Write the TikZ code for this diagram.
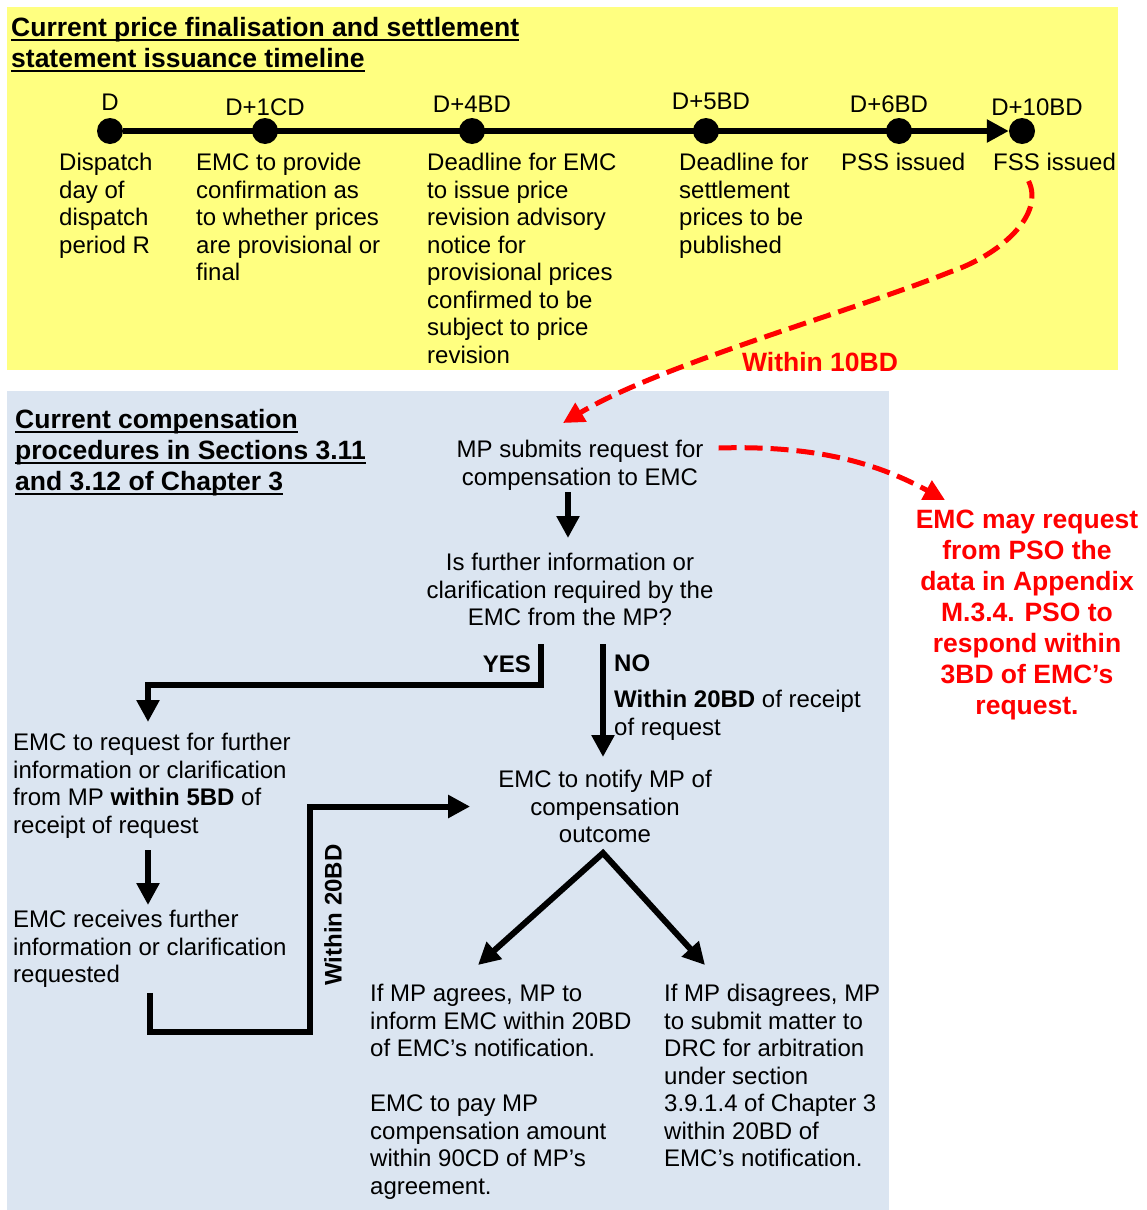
\documentclass[tikz,border=0pt]{standalone}
\usepackage{fontspec}
\setmainfont{Liberation Sans}
\usetikzlibrary{arrows.meta}
\definecolor{paleyellow}{HTML}{FFFF80}
\definecolor{paleblue}{HTML}{DBE5F1}
\definecolor{alertred}{HTML}{FF0000}
\newcommand{\ulbox}[1]{\leavevmode\setbox0\hbox{#1}\rlap{\rule[-4.5pt]{\wd0}{2.4pt}}\box0}
\newcommand{\bodysize}{\fontsize{24}{27.5}\selectfont}
\newcommand{\headsize}{\fontsize{26.5}{31}\selectfont\bfseries}
\begin{document}
\begin{tikzpicture}[x=1pt, y=-1pt,
	dot/.style={circle, fill=black, inner sep=0pt, minimum size=26pt},
	txt/.style={font=\bodysize, inner sep=0pt, align=left, anchor=north west},
	ctxt/.style={font=\bodysize, inner sep=0pt, align=center, anchor=north},
	head/.style={font=\headsize, inner sep=0pt, align=left, anchor=north west},
	alert/.style={font=\headsize, text=alertred, inner sep=0pt, align=center},
	blk/.style={line width=6pt, -{Triangle[length=22pt, width=22pt]}},
	blkboth/.style={line width=6pt, {Triangle[length=22pt, width=22pt]}-{Triangle[length=22pt, width=22pt]}},
	redarrow/.style={alertred, line width=5pt, dash pattern=on 18pt off 8pt, -{Triangle[length=21pt, width=21pt]}},
	every label/.style={font=\bodysize, inner sep=0pt}]
	\useasboundingbox (0,0) rectangle (1147,1210);
	\fill[paleyellow] (7,7) rectangle (1118,370);
	\fill[paleblue] (7,391) rectangle (889,1210);

	\node[head] (ttltop) at (11,17) {\ulbox{Current price finalisation and settlement}\\\ulbox{statement issuance timeline}};
	\node[dot, label={[label distance=7pt]above:D}] (dD) at (110,131) {};
	\node[dot, label={[label distance=2pt]above:D+1CD}] (d1) at (265,131) {};
	\node[dot, label={[label distance=5pt]above:D+4BD}] (d4) at (472,131) {};
	\node[dot, label={[label distance=8pt, xshift=5pt]above:D+5BD}] (d5) at (706,131) {};
	\node[dot, label={[label distance=5pt, xshift=-10pt]above:D+6BD}] (d6) at (899,131) {};
	\node[dot, label={[label distance=2pt, xshift=15pt]above:D+10BD}] (d10) at (1022,131) {};
	\draw[blk] (dD) -- (d10);
	\node[txt] (dDtxt) at (59,153) {Dispatch\\day of\\dispatch\\period R};
	\node[txt] (d1txt) at (196,153) {EMC to provide\\confirmation as\\to whether prices\\are provisional or\\final};
	\node[txt] (d4txt) at (427,153) {Deadline for EMC\\to issue price\\revision advisory\\notice for\\provisional prices\\confirmed to be\\subject to price\\revision};
	\node[txt] (d5txt) at (679,153) {Deadline for\\settlement\\prices to be\\published};
	\node[txt] (pss) at (841,153) {PSS issued};
	\node[txt] (fss) at (993,153) {FSS issued};

	\node[head] (ttlcomp) at (15,409.5) {\ulbox{Current compensation}\\\ulbox{procedures in Sections 3.11}\\\ulbox{and 3.12 of Chapter 3}};
	\node[ctxt] (submit) at (580,440) {MP submits request for\\compensation to EMC};
	\node[ctxt] (qry) at (570,553) {Is further information or\\clarification required by the\\EMC from the MP?};
	\node[txt, font=\bodysize\bfseries, anchor=north east] (yes) at (531,656) {YES};
	\node[txt, font=\bodysize\bfseries] (no) at (614,655) {NO};
	\node[txt] (nodelay) at (614,690) {\textbf{Within 20BD} of receipt\\of request};
	\node[ctxt] (notify) at (605,770) {EMC to notify MP of\\compensation\\outcome};
	\node[txt] (req) at (13,733) {EMC to request for further\\information or clarification\\from MP \textbf{within 5BD} of\\receipt of request};
	\node[txt] (recv) at (13,910) {EMC receives further\\information or clarification\\requested};
	\node[font=\bodysize\bfseries, inner sep=0pt, rotate=90] (w20) at (333,915) {Within 20BD};
	\node[txt] (agree) at (370,984) {If MP agrees, MP to\\inform EMC within 20BD\\of EMC’s notification.\\[27.5pt]EMC to pay MP\\compensation amount\\within 90CD of MP’s\\agreement.};
	\node[txt] (disagree) at (664,984) {If MP disagrees, MP\\to submit matter to\\DRC for arbitration\\under section\\3.9.1.4 of Chapter 3\\within 20BD of\\EMC’s notification.};
	\node[alert, anchor=north] (pso) at (1027,509.5) {EMC may request\\from PSO the\\data in Appendix\\M.3.4. PSO to\\respond within\\3BD of EMC’s\\request.};
	\node[alert] (w10) at (820,362) {Within 10BD};

	\draw[redarrow] ([shift={(-26,10)}]fss.south) .. controls (1045,215) and (1000,255) .. (950,272) .. controls (850,312) and (660,365) .. ([shift={(-17,-17)}]submit.north);
	\draw[redarrow] ([shift={(15,8)}]submit.north east) .. controls +(102,-3) and +(-65,-35) .. ([shift={(-82,-9.5)}]pso.north);
	\draw[blk] ([shift={(-12,2)}]submit.south) -- ([shift={(-2,-15)}]qry.north);
	\draw[blk] ([shift={(-29,18)}]qry.south) -- ++(0,41) -| ([shift={(135,-11)}]req.north west);
	\draw[blk] ([shift={(33,18)}]qry.south) -- ([shift={(-2,-13)}]notify.north);
	\draw[blk] ([shift={(135,12)}]req.south west) -- ([shift={(135,-5)}]recv.north west);
	\draw[blk] ([shift={(137,5)}]recv.south west) -- ++(0,39) -- ++(160,0) |- ([xshift=-28pt]notify.west);
	\draw[blkboth] ([shift={(108,-19)}]agree.north west) -- ([shift={(-2,10)}]notify.south) -- ([shift={(41,-19)}]disagree.north west);
\end{tikzpicture}
\end{document}
